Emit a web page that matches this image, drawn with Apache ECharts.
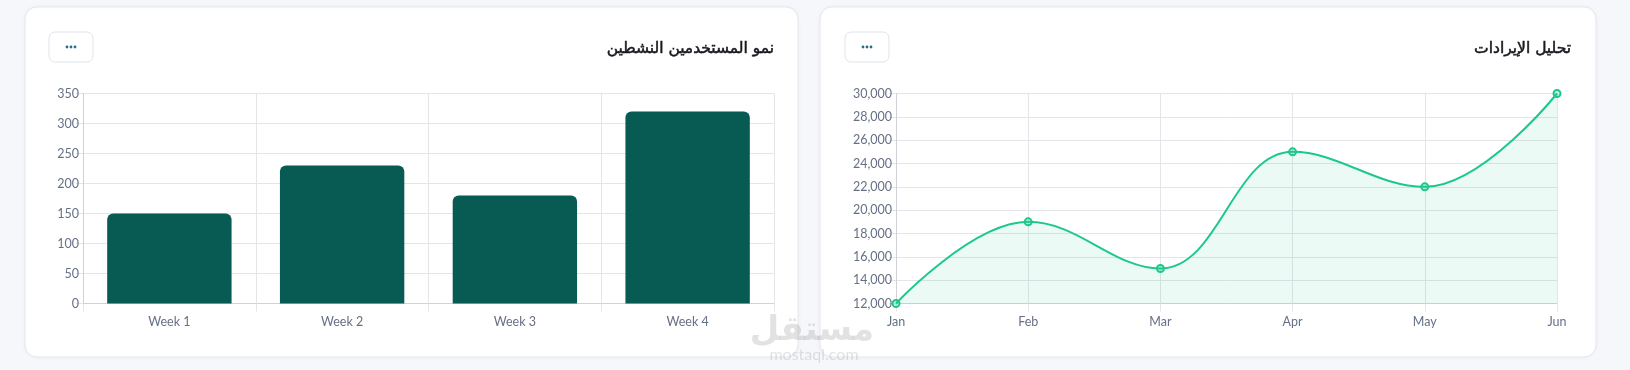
<!DOCTYPE html>
<html>
<head>
<meta charset="utf-8">
<script src="https://cdn.jsdelivr.net/npm/echarts@6/dist/echarts.min.js"></script>
<style>
html,body{margin:0;padding:0;background:#f5f7fb;}
#c{width:1630px;height:370px;}
</style>
</head>
<body>
<div id="c"></div>
<script>
const barTitle = 'نمو المستخدمين النشطين';
const lineTitle = 'تحليل الإيرادات';
const weeks = ['Week 1','Week 2','Week 3','Week 4'];
const activeUsers = [150, 230, 180, 320];
const months = ['Jan','Feb','Mar','Apr','May','Jun'];
const revenue = [12000, 19000, 15000, 25000, 22000, 30000];

const latin = 'Lato, "Noto Sans", sans-serif';
const arab = '"DejaVu Sans", sans-serif';
const labelColor = '#667085';
const gridColor = '#e3e5e8';
const axisColor = '#cfd2d6';

function card(x, w){
  return {type:'rect', z:-10, shape:{x:x, y:7, width:w, height:350, r:12},
    style:{fill:'#ffffff', stroke:'#e4e8ee', lineWidth:1, shadowBlur:4, shadowColor:'rgba(0,0,0,0.04)'}};
}
function button(x){
  const els = [{type:'rect', z:5, shape:{x:x, y:32, width:44, height:30, r:6},
    style:{fill:'#ffffff', stroke:'#dfe4ea', lineWidth:1}}];
  for (let i=-1;i<=1;i++){
    els.push({type:'circle', z:6, shape:{cx:x+22+i*4, cy:47, r:1.4}, style:{fill:'#2c6d86'}});
  }
  return els;
}
function title(xr, t){
  return {type:'text', z:5, x:xr, y:49, style:{text:t, align:'right', verticalAlign:'middle',
    font:'15.5px ' + arab, fill:'#16181d', stroke:'#16181d', lineWidth:0.5}};
}

const chart = echarts.init(document.getElementById('c'), null, {renderer:'canvas'});
chart.setOption({
  backgroundColor:'#f5f7fb',
  animation:false,
  graphic:[
    card(25, 773), card(820, 776),
    ...button(49), ...button(845),
    title(774, barTitle), title(1571, lineTitle),
    {type:'text', z:50, x:812, y:331, style:{text:'مستقل', align:'center', verticalAlign:'middle',
      font:'bold 34px ' + arab, fill:'rgba(160,160,160,0.3)'}},
    {type:'text', z:50, x:814, y:355, style:{text:'mostaql.com', align:'center', verticalAlign:'middle',
      font:'16px ' + latin, fill:'rgba(160,160,160,0.3)'}}
  ],
  grid:[
    {left:83, right:1630-774, top:93.5, bottom:370-303.5},
    {left:896, right:1630-1557, top:93.5, bottom:370-303.5}
  ],
  xAxis:[
    {type:'category', gridIndex:0, data:weeks, boundaryGap:true,
      axisLine:{show:true, lineStyle:{color:axisColor}},
      axisTick:{show:true, length:8, lineStyle:{color:gridColor}},
      splitLine:{show:true, lineStyle:{color:gridColor}},
      axisLabel:{color:labelColor, fontFamily:latin, fontSize:12.5, margin:12}},
    {type:'category', gridIndex:1, data:months, boundaryGap:false,
      axisLine:{show:true, lineStyle:{color:axisColor}},
      axisTick:{show:true, length:8, lineStyle:{color:gridColor}},
      splitLine:{show:true, lineStyle:{color:gridColor}},
      axisLabel:{color:labelColor, fontFamily:latin, fontSize:12.5, margin:12}}
  ],
  yAxis:[
    {type:'value', gridIndex:0, min:0, max:350, interval:50,
      axisLine:{show:true, lineStyle:{color:axisColor}},
      axisTick:{show:true, length:7, lineStyle:{color:gridColor}},
      splitLine:{show:true, lineStyle:{color:gridColor}},
      axisLabel:{color:labelColor, fontFamily:latin, fontSize:12.5, margin:4}},
    {type:'value', gridIndex:1, min:12000, max:30000, interval:2000,
      axisLine:{show:true, lineStyle:{color:axisColor}},
      axisTick:{show:true, length:7, lineStyle:{color:gridColor}},
      splitLine:{show:true, lineStyle:{color:gridColor}},
      axisLabel:{color:labelColor, fontFamily:latin, fontSize:12.5, margin:4,
        formatter:v=>v.toLocaleString('en-US')}}
  ],
  series:[
    {type:'bar', xAxisIndex:0, yAxisIndex:0, data:activeUsers, barCategoryGap:'28%',
      itemStyle:{color:'#075b53', borderRadius:[6,6,0,0]}},
    {type:'line', xAxisIndex:1, yAxisIndex:1, data:revenue, smooth:0.4,
      symbol:'circle', symbolSize:7, showSymbol:true,
      lineStyle:{color:'#1cc98a', width:2},
      itemStyle:{color:'rgba(28,201,138,0.25)', borderColor:'#1cc98a', borderWidth:2},
      areaStyle:{color:'rgba(28,201,138,0.12)'}}
  ]
});
</script>
</body>
</html>
